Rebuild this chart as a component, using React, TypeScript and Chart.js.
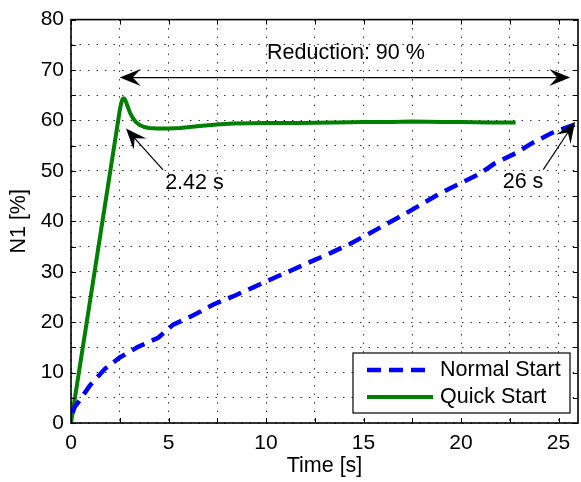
import React, { useEffect, useRef } from "react";
import { Chart, registerables } from "chart.js";

Chart.register(...registerables);

const FONT = "'Liberation Sans', Arial, Helvetica, sans-serif";

// Normal Start series (time [s], N1 [%])
const normalT = [0.08, 0.19, 0.45, 0.96, 1.73, 2.5, 3.44, 4.47, 5.24, 6.35, 7.3, 8.3, 9.35, 10.2, 11.2, 12.3, 13.3, 14.3, 15.25, 16.2, 17.1, 18.07, 19.0, 20.9, 21.7, 22.8, 23.6, 24.65, 25.76, 26];
const normalN = [2.0, 3.2, 4.5, 7.4, 10.7, 13.0, 15.1, 16.9, 19.5, 21.5, 23.5, 25.1, 26.9, 28.4, 30.1, 32.0, 33.7, 35.5, 37.5, 39.5, 41.4, 43.6, 45.7, 49.3, 51.4, 53.5, 55.4, 57.5, 59.1, 59.5];

// Quick Start series
const quickT = [0, 2.5, 2.57, 2.64, 2.7, 2.76, 2.83, 2.92, 3.03, 3.17, 3.33, 3.52, 3.75, 4.0, 4.4, 5.0, 5.6, 6.6, 7.5, 8.3, 10, 11.7, 13.5, 15, 16.5, 17.5, 19, 20, 21.5, 22.8];
const quickN = [0, 62.0, 63.4, 64.2, 64.4, 64.2, 63.6, 62.6, 61.5, 60.5, 59.7, 59.1, 58.7, 58.5, 58.4, 58.4, 58.5, 58.9, 59.2, 59.4, 59.5, 59.5, 59.6, 59.7, 59.7, 59.8, 59.7, 59.7, 59.6, 59.6];

const seriesLabels = ["Normal Start", "Quick Start"];
const xTitle = "Time [s]";
const yTitle = "N1 [%]";

// Annotations (data coordinates)
const reductionArrow = { from: 2.5, to: 25.6, level: 68.5 };
const reductionLabel = { text: "Reduction: 90 %", t: 14.1, n: 73.4 };
const quickArrow = { tailT: 4.72, tailN: 50.2, tipT: 2.82, tipN: 58.4 };
const quickLabel = { text: "2.42 s", t: 6.33, n: 47.5 };
const normalArrow = { tailT: 24.22, tailN: 50.25, tipT: 25.85, tipN: 59.75 };
const normalLabel = { text: "26 s", t: 23.18, n: 47.7 };

function arrowHead(ctx: CanvasRenderingContext2D, tx: number, ty: number, fx: number, fy: number) {
  const a = Math.atan2(ty - fy, tx - fx);
  const len = 21, hw = 8.5, notch = 13;
  ctx.save();
  ctx.translate(tx, ty);
  ctx.rotate(a);
  ctx.beginPath();
  ctx.moveTo(0, 0);
  ctx.lineTo(-len, -hw);
  ctx.lineTo(-notch, 0);
  ctx.lineTo(-len, hw);
  ctx.closePath();
  ctx.fillStyle = "#000";
  ctx.fill();
  ctx.restore();
}

function arrowLine(ctx: CanvasRenderingContext2D, x1: number, y1: number, x2: number, y2: number, lw: number) {
  ctx.save();
  ctx.strokeStyle = "#000";
  ctx.lineWidth = lw;
  ctx.beginPath();
  ctx.moveTo(x1, y1);
  ctx.lineTo(x2, y2);
  ctx.stroke();
  ctx.restore();
}

const framePlugin = {
  id: "frame",
  afterDraw(chart: any) {
    const { ctx, chartArea: ca, scales } = chart;
    const xs = scales.x, ys = scales.y;
    ctx.save();
    // inward ticks
    ctx.strokeStyle = "#000";
    ctx.lineWidth = 1;
    ctx.beginPath();
    xs.ticks.forEach((t: any) => {
      const px = Math.round(xs.getPixelForValue(t.value)) + 0.5;
      ctx.moveTo(px, ca.bottom); ctx.lineTo(px, ca.bottom - 5);
      ctx.moveTo(px, ca.top); ctx.lineTo(px, ca.top + 5);
    });
    ys.ticks.forEach((t: any) => {
      const py = Math.round(ys.getPixelForValue(t.value)) + 0.5;
      ctx.moveTo(ca.left, py); ctx.lineTo(ca.left + 5, py);
      ctx.moveTo(ca.right, py); ctx.lineTo(ca.right - 5, py);
    });
    ctx.stroke();
    // box
    ctx.lineWidth = 1.6;
    ctx.strokeRect(ca.left, ca.top, ca.right - ca.left, ca.bottom - ca.top);

    // annotations
    const X = (v: number) => xs.getPixelForValue(v);
    const Y = (v: number) => ys.getPixelForValue(v);
    const ry = Y(reductionArrow.level);
    const rx1 = X(reductionArrow.from), rx2 = X(reductionArrow.to);
    arrowLine(ctx, rx1 + 10, ry, rx2 - 10, ry, 1.3);
    arrowHead(ctx, rx1, ry, rx2, ry);
    arrowHead(ctx, rx2, ry, rx1, ry);

    for (const ar of [quickArrow, normalArrow]) {
      const tx = X(ar.tipT), ty = Y(ar.tipN), fx = X(ar.tailT), fy = Y(ar.tailN);
      arrowLine(ctx, fx, fy, tx + (fx - tx) * 0.2, ty + (fy - ty) * 0.2, 1.2);
      arrowHead(ctx, tx, ty, fx, fy);
    }

    ctx.fillStyle = "#000";
    ctx.font = `21.5px ${FONT}`;
    ctx.textAlign = "center";
    ctx.textBaseline = "middle";
    for (const lb of [reductionLabel, quickLabel, normalLabel]) {
      ctx.fillText(lb.text, X(lb.t), Y(lb.n));
    }

    // legend
    const bw = 217, bh = 60;
    const bx = ca.right - 8 - bw, by = ca.bottom - 10 - bh;
    ctx.fillStyle = "#fff";
    ctx.fillRect(bx, by, bw, bh);
    ctx.strokeStyle = "#000";
    ctx.lineWidth = 1.2;
    ctx.strokeRect(bx, by, bw, bh);
    chart.data.datasets.forEach((ds: any, i: number) => {
      const ly = by + 17 + i * 27;
      ctx.save();
      ctx.strokeStyle = ds.borderColor;
      ctx.lineWidth = ds.borderWidth;
      ctx.setLineDash(ds.borderDash || []);
      ctx.beginPath();
      ctx.moveTo(bx + 14, ly);
      ctx.lineTo(bx + 80, ly);
      ctx.stroke();
      ctx.restore();
      ctx.fillStyle = "#000";
      ctx.textAlign = "left";
      ctx.textBaseline = "middle";
      ctx.font = `21.5px ${FONT}`;
      ctx.fillText(ds.label, bx + 87, ly);
    });
    ctx.restore();
  },
};

export default function App() {
  const ref = useRef<HTMLCanvasElement>(null);
  useEffect(() => {
    const canvas = ref.current!;
    const chart = new Chart(canvas, {
      type: "line",
      data: {
        datasets: [
          {
            label: seriesLabels[0],
            data: normalT.map((t, i) => ({ x: t, y: normalN[i] })),
            borderColor: "#0000ff",
            borderWidth: 4.5,
            borderDash: [14, 8],
            pointRadius: 0,
            fill: false,
            tension: 0,
          },
          {
            label: seriesLabels[1],
            data: quickT.map((t, i) => ({ x: t, y: quickN[i] })),
            borderColor: "#008000",
            borderWidth: 4,
            pointRadius: 0,
            fill: false,
            tension: 0,
            borderJoinStyle: "round",
          },
        ],
      } as any,
      options: {
        responsive: false,
        animation: false,
        layout: { padding: { left: 0, right: 3, top: 15, bottom: 0 } },
        plugins: { legend: { display: false }, tooltip: { enabled: false } },
        scales: {
          x: {
            type: "linear",
            min: 0,
            max: 26,
            afterFit: (s: any) => { s.height = 59; },
            ticks: {
              stepSize: 2.5,
              autoSkip: false,
              includeBounds: false,
              maxRotation: 0,
              padding: 8,
              color: "#000",
              font: { family: FONT, size: 21 },
              callback: (v: any) => (Number(v) % 5 === 0 ? String(v) : ""),
            },
            grid: { color: "rgba(0,0,0,0.8)", lineWidth: 1, drawTicks: false },
            border: { display: false, dash: [1.5, 7] },
            title: {
              display: true,
              text: xTitle,
              color: "#000",
              font: { family: FONT, size: 21.5 },
              padding: { top: 0, bottom: 3 },
            },
          },
          y: {
            type: "linear",
            min: 0,
            max: 80,
            afterFit: (s: any) => { s.width = 71; },
            ticks: {
              stepSize: 5,
              autoSkip: false,
              includeBounds: false,
              padding: 7,
              color: "#000",
              font: { family: FONT, size: 21 },
              callback: (v: any) => (Number(v) % 10 === 0 ? String(v) : ""),
            },
            grid: { color: "rgba(0,0,0,0.8)", lineWidth: 1, drawTicks: false },
            border: { display: false, dash: [1.5, 7] },
            title: {
              display: true,
              text: yTitle,
              color: "#000",
              font: { family: FONT, size: 21.5 },
              padding: { top: 6, bottom: 0 },
            },
          },
        },
      } as any,
      plugins: [framePlugin],
    });
    return () => chart.destroy();
  }, []);
  return (
    <div style={{ position: "fixed", left: 0, top: 0, width: 581, height: 482, background: "#fff" }}>
      <canvas ref={ref} width={581} height={482} style={{ display: "block" }} />
    </div>
  );
}
